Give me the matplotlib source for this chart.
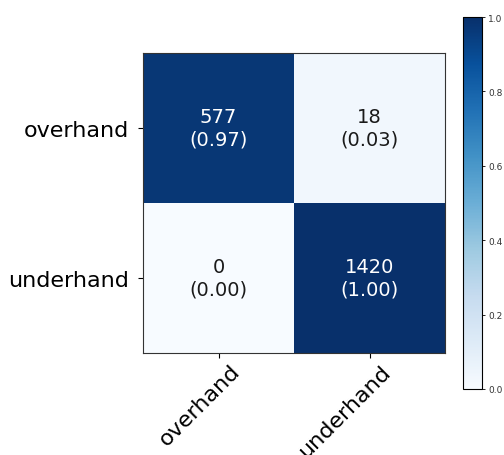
import numpy as np
import matplotlib
matplotlib.use('Agg')
import matplotlib.pyplot as plt
import matplotlib.transforms as mtransforms

classes = ['overhand', 'underhand']
counts = np.array([[577, 18],
                   [0, 1420]])
# row-normalised values as printed in the cells
norm_vals = np.array([[0.97, 0.03],
                      [0.00, 1.00]])

fig = plt.figure(figsize=(5.04, 4.56), dpi=100)
ax = fig.add_axes([143/504, 1-354/456, 302/504, 300/456])
cax = fig.add_axes([463/504, 1-390/456, 19/504, 372/456])

im = ax.imshow(norm_vals, interpolation='nearest', cmap=plt.cm.Blues, aspect='auto')
cb = fig.colorbar(im, cax=cax)
cb.set_ticks([0.0, 0.2, 0.4, 0.6, 0.8, 1.0])
cb.ax.tick_params(labelsize=6.5, length=2.5, pad=2, width=0.6, labelcolor='#333333')
cb.outline.set_linewidth(0.8)

tick_marks = np.arange(len(classes))
ax.set_xticks(tick_marks)
ax.set_yticks(tick_marks)
ax.set_xticklabels(classes, fontsize=16)
ax.set_yticklabels(classes, fontsize=16)
ax.tick_params(axis='y', pad=6.5)
plt.setp(ax.get_xticklabels(), rotation=45, ha='right', rotation_mode='anchor')
# nudge the rotated labels a little to the right
shift = mtransforms.ScaledTranslation(0.11, 0.02, fig.dpi_scale_trans)
for lab in ax.get_xticklabels():
    lab.set_transform(lab.get_transform() + shift)

thresh = norm_vals.max() / 2.
for i in range(2):
    for j in range(2):
        ax.text(j, i, '%d\n(%.2f)' % (counts[i, j], norm_vals[i, j]),
                ha='center', va='center', fontsize=14,
                color='white' if norm_vals[i, j] > thresh else '#1a1a1a')

for s in ax.spines.values():
    s.set_color('#333333')

fig.savefig('out.png', dpi=100)
